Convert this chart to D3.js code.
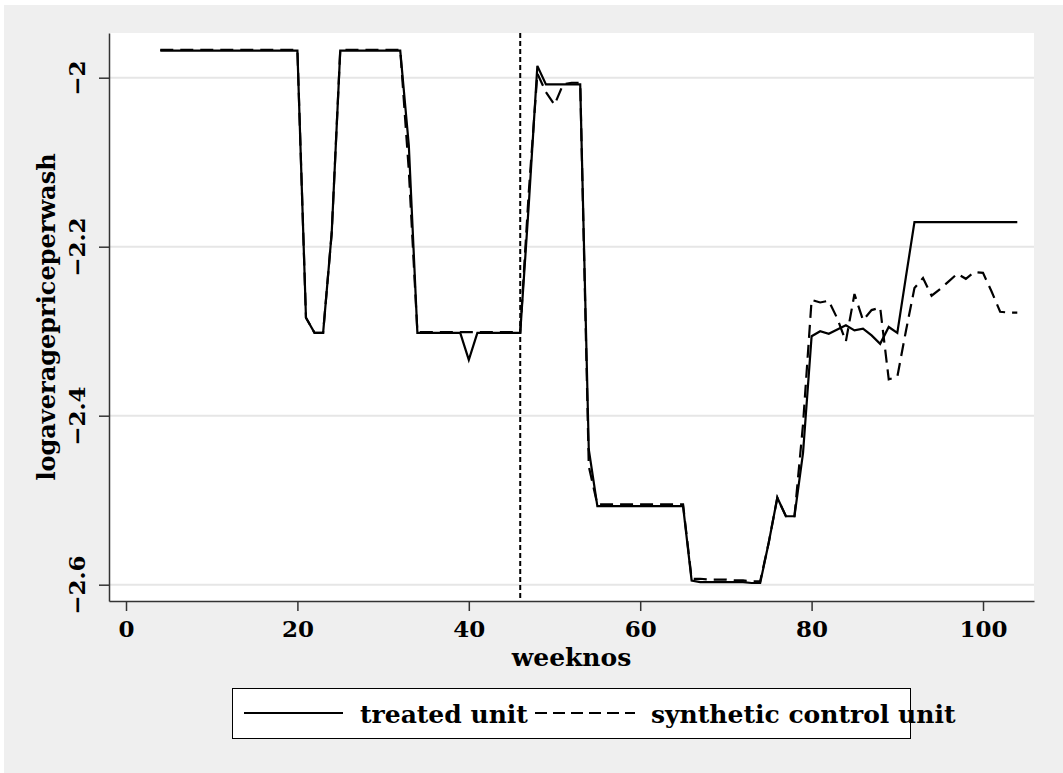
<!DOCTYPE html>
<html>
<head>
<meta charset="utf-8">
<script src="https://cdn.jsdelivr.net/npm/d3@7"></script>
<style>
  html, body { margin: 0; padding: 0; background: #ffffff; }
  svg { display: block; }
  text { font-family: "DejaVu Serif", "Liberation Serif", serif; font-weight: bold; fill: #000; }
</style>
</head>
<body>
<div id="chart"></div>
<script>
// ---------------- data ----------------
const weeks = d3.range(4, 105); // weeks 4..104

const treated = [
  -1.968, -1.968, -1.968, -1.968, -1.968, -1.968, -1.968, -1.968, -1.968, -1.968, // 4-13
  -1.968, -1.968, -1.968, -1.968, -1.968, -1.968, -1.968,                         // 14-20
  -2.284, -2.302, -2.302, -2.184,                                                 // 21-24
  -1.968, -1.968, -1.968, -1.968, -1.968, -1.968, -1.968, -1.968,                 // 25-32
  -2.080,                                                                         // 33
  -2.302, -2.302, -2.302, -2.302, -2.302, -2.302,                                 // 34-39
  -2.334,                                                                         // 40
  -2.302, -2.302, -2.302, -2.302, -2.302, -2.302,                                 // 41-46
  -2.150, -1.986,                                                                 // 47-48
  -2.008, -2.008, -2.008, -2.008, -2.008,                                         // 49-53
  -2.440,                                                                         // 54
  -2.507, -2.507, -2.507, -2.507, -2.507, -2.507, -2.507, -2.507, -2.507, -2.507, -2.507, // 55-65
  -2.595,                                                                         // 66
  -2.597, -2.597, -2.597, -2.597, -2.597, -2.597, -2.598, -2.598,                 // 67-74
  -2.550, -2.497, -2.519, -2.519, -2.444,                                         // 75-79
  -2.306, -2.300, -2.303, -2.298, -2.293, -2.299, -2.297, -2.305, -2.315, -2.295, -2.302, // 80-90
  -2.236,                                                                         // 91
  -2.171, -2.171, -2.171, -2.171, -2.171, -2.171, -2.171, -2.171, -2.171, -2.171, -2.171, -2.171, -2.171 // 92-104
];

const synthetic = [
  -1.967, -1.967, -1.967, -1.967, -1.967, -1.967, -1.967, -1.967, -1.967, -1.967, // 4-13
  -1.967, -1.967, -1.967, -1.967, -1.967, -1.967, -1.967,                         // 14-20
  -2.284, -2.302, -2.302, -2.184,                                                 // 21-24
  -1.967, -1.967, -1.967, -1.967, -1.967, -1.967, -1.967, -1.967,                 // 25-32
  -2.110,                                                                         // 33
  -2.301, -2.301, -2.301, -2.301, -2.301, -2.301,                                 // 34-39
  -2.301,                                                                         // 40
  -2.301, -2.301, -2.301, -2.301, -2.301, -2.301,                                 // 41-46
  -2.135, -1.995,                                                                 // 47-48
  -2.017, -2.032, -2.008, -2.006, -2.006,                                         // 49-53
  -2.460,                                                                         // 54
  -2.505, -2.505, -2.505, -2.505, -2.505, -2.505, -2.505, -2.505, -2.505, -2.505, -2.505, // 55-65
  -2.593,                                                                         // 66
  -2.593, -2.594, -2.594, -2.594, -2.595, -2.595, -2.596, -2.596,                 // 67-74
  -2.550, -2.497, -2.519, -2.519, -2.410,                                         // 75-79
  -2.263, -2.266, -2.264, -2.285, -2.312, -2.256, -2.287, -2.275, -2.272, -2.357, -2.354, // 80-90
  -2.300,                                                                         // 91
  -2.249, -2.237, -2.258, -2.250, -2.241, -2.232, -2.238, -2.230, -2.231, -2.253, -2.277, -2.278, -2.278 // 92-104
];

const treatmentWeek = 46;
const xTicks = [0, 20, 40, 60, 80, 100];
const yTicks = [-2, -2.2, -2.4, -2.6];
const yTickLabels = ["\u22122", "\u22122.2", "\u22122.4", "\u22122.6"];
const xTitle = "weeknos";
const yTitle = "logaveragepriceperwash";
const legendLabels = ["treated unit", "synthetic control unit"];

// ---------------- layout ----------------
const W = 1063, H = 773;
const plot = { left: 109, right: 1034, top: 33, bottom: 601 };

const svg = d3.select("#chart").append("svg")
  .attr("width", W).attr("height", H);

// outer background
svg.append("rect").attr("x", 0).attr("y", 0).attr("width", W).attr("height", H).attr("fill", "#ffffff");
svg.append("rect").attr("x", 4).attr("y", 5).attr("width", W - 4).attr("height", H - 5).attr("fill", "#efefef");

// plot region
svg.append("rect")
  .attr("x", plot.left).attr("y", plot.top)
  .attr("width", plot.right - plot.left).attr("height", plot.bottom - plot.top)
  .attr("fill", "#ffffff");

// scales (0 -> 126px, 100 -> 983px ; -2 -> 77.7px, -2.6 -> 584.7px)
const x = d3.scaleLinear()
  .domain([-1.984, 105.95])
  .range([plot.left, plot.right]);
const y = d3.scaleLinear()
  .domain([-2.6193, -1.9471])
  .range([plot.bottom, plot.top]);

// grid lines
svg.append("g").selectAll("line").data(yTicks).join("line")
  .attr("x1", plot.left).attr("x2", plot.right)
  .attr("y1", d => y(d)).attr("y2", d => y(d))
  .attr("stroke", "#e6e6e6").attr("stroke-width", 2);

// series
const treatedData = weeks.map((w, i) => [w, treated[i]]);
const syntheticData = weeks.map((w, i) => [w, synthetic[i]]);
const line = d3.line().x(d => x(d[0])).y(d => y(d[1]));

svg.append("path").datum(syntheticData)
  .attr("d", line).attr("fill", "none")
  .attr("stroke", "#000").attr("stroke-width", 2.2)
  .attr("stroke-dasharray", "13,7");

svg.append("path").datum(treatedData)
  .attr("d", line).attr("fill", "none")
  .attr("stroke", "#000").attr("stroke-width", 2.2);

// treatment line
svg.append("line")
  .attr("x1", x(treatmentWeek)).attr("x2", x(treatmentWeek))
  .attr("y1", plot.top).attr("y2", plot.bottom)
  .attr("stroke", "#000").attr("stroke-width", 2)
  .attr("stroke-dasharray", "5,3");

// axes
const yAxis = d3.axisLeft(y).tickValues(yTicks)
  .tickFormat((d, i) => yTickLabels[i]).tickSize(10).tickSizeOuter(0);
const gy = svg.append("g").attr("transform", `translate(${plot.left},0)`).call(yAxis);
gy.select(".domain").attr("stroke", "#333").attr("stroke-width", 1.5);
gy.selectAll(".tick line").attr("stroke", "#333").attr("stroke-width", 1.5);
gy.selectAll(".tick text")
  .attr("x", null).attr("dy", null)
  .attr("transform", "translate(-24,0) rotate(-90)")
  .attr("text-anchor", "middle")
  .style("font-family", '"DejaVu Serif", serif')
  .style("font-weight", "bold")
  .style("font-size", "23px")
  .attr("fill", "#000");

const xAxis = d3.axisBottom(x).tickValues(xTicks)
  .tickFormat(d3.format("d")).tickSize(10).tickSizeOuter(0);
const gx = svg.append("g").attr("transform", `translate(0,${plot.bottom})`).call(xAxis);
gx.select(".domain").attr("stroke", "#333").attr("stroke-width", 1.5);
gx.selectAll(".tick line").attr("stroke", "#333").attr("stroke-width", 1.5);
gx.selectAll(".tick text")
  .attr("y", 36).attr("dy", null)
  .style("font-family", '"DejaVu Serif", serif')
  .style("font-weight", "bold")
  .style("font-size", "23px")
  .attr("fill", "#000");

// axis titles
svg.append("text")
  .attr("x", (plot.left + plot.right) / 2).attr("y", 666)
  .attr("text-anchor", "middle")
  .style("font-size", "25px")
  .text(xTitle);

svg.append("text")
  .attr("transform", `translate(55,${(plot.top + plot.bottom) / 2}) rotate(-90)`)
  .attr("text-anchor", "middle")
  .style("font-size", "24px")
  .text(yTitle);

// legend
const lg = svg.append("g");
lg.append("rect")
  .attr("x", 232.5).attr("y", 688.5).attr("width", 678).attr("height", 50)
  .attr("fill", "#ffffff").attr("stroke", "#000").attr("stroke-width", 1);
lg.append("line").attr("x1", 244).attr("x2", 343).attr("y1", 713).attr("y2", 713)
  .attr("stroke", "#000").attr("stroke-width", 2);
lg.append("text").attr("x", 360).attr("y", 723).style("font-size", "25px").text(legendLabels[0]);
lg.append("line").attr("x1", 535).attr("x2", 635).attr("y1", 713).attr("y2", 713)
  .attr("stroke", "#000").attr("stroke-width", 2).attr("stroke-dasharray", "12,6");
lg.append("text").attr("x", 651).attr("y", 723).style("font-size", "25px").text(legendLabels[1]);
</script>
</body>
</html>
